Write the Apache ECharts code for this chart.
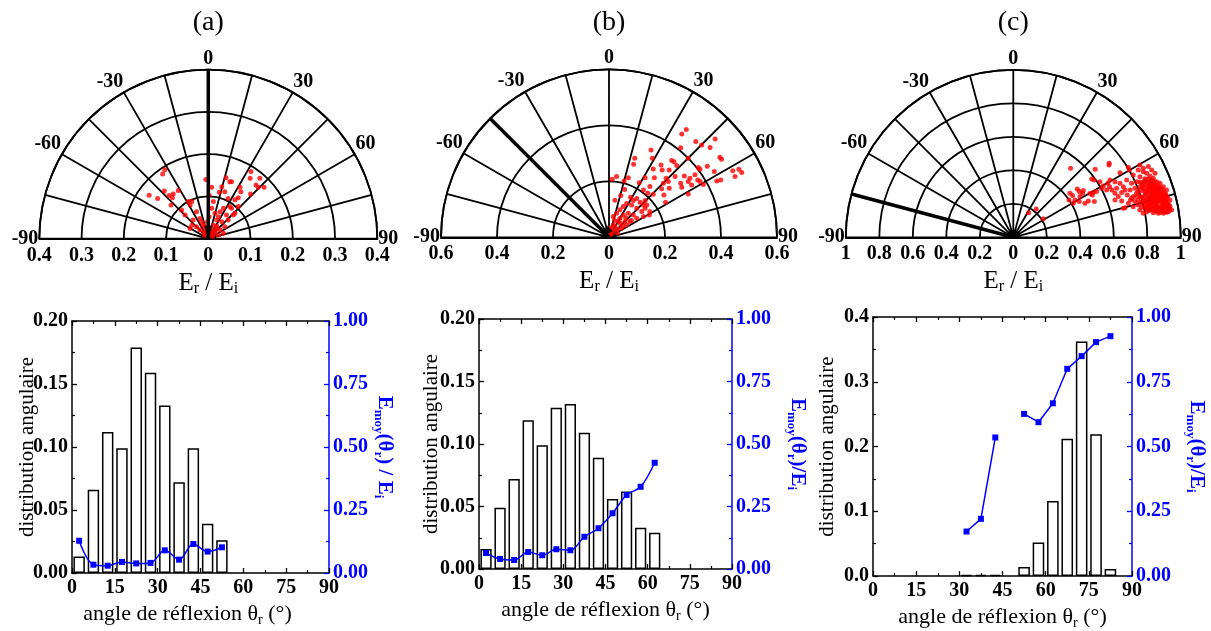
<!DOCTYPE html>
<html><head><meta charset="utf-8">
<script src="https://cdn.jsdelivr.net/npm/echarts@6/dist/echarts.min.js"></script>
<style>html,body{margin:0;padding:0;background:#fff}#c{width:1211px;height:631px}</style>
</head><body><div id="c"></div>
<script>
// ---------------- DATA ----------------
const panelTitles = ['(a)', '(b)', '(c)'];
const binCenters = [2.5,7.5,12.5,17.5,22.5,27.5,32.5,37.5,42.5,47.5,52.5,57.5,62.5,67.5,72.5,77.5,82.5,87.5];
const distA = [0.013,0.066,0.112,0.099,0.179,0.159,0.133,0.072,0.099,0.039,0.026,null,null,null,null,null,null,null];
const energyA = [0.128,0.033,0.029,0.044,0.038,0.040,0.090,0.053,0.115,0.085,0.102,null,null,null,null,null,null,null];
const distB = [0.016,0.049,0.072,0.119,0.099,0.129,0.132,0.109,0.089,0.056,0.062,0.033,0.029,null,null,null,null,null];
const energyB = [0.064,0.040,0.036,0.068,0.055,0.079,0.075,0.129,0.163,0.223,0.296,0.329,0.425,null,null,null,null,null];
const distC = [null,null,null,null,null,null,0.002,0.002,0.002,null,0.014,0.052,0.116,0.212,0.362,0.219,0.011,null];
const energyC = [null,null,null,null,null,null,0.172,0.221,0.535,null,0.626,0.594,0.667,0.800,0.849,0.903,0.926,null];

// polar maxima / incidence angle (deg)
const polarMax = [0.4, 0.6, 1.0];
const polarStep = [0.1, 0.2, 0.2];
const incidence = [0, -45, -75];
const angleTicks = [-90,-60,-30,0,30,60,90];

// reflected points: [horizontal, vertical] components of Er/Ei
const ptsA = [
[-0.103,0.163],[-0.108,0.153],[-0.140,0.103],[-0.120,0.095],[-0.104,0.113],[-0.093,0.102],[-0.085,0.097],[-0.083,0.106],[-0.071,0.114],[-0.088,0.080],
[-0.063,0.068],[-0.047,0.088],[-0.039,0.088],[-0.043,0.080],[-0.055,0.056],[-0.028,0.064],[-0.036,0.044],[-0.020,0.048],[-0.039,0.032],[-0.043,0.024],
[-0.028,0.028],[-0.016,0.040],[-0.012,0.032],[-0.020,0.021],[-0.008,0.028],[-0.012,0.017],
[-0.006,0.140],[0.008,0.122],[0.002,0.103],[0.012,0.088],[0.008,0.072],[0.002,0.052],[-0.002,0.040],[0.020,0.044],[0.016,0.060],[0.012,0.032],
[0.024,0.052],[0.028,0.064],[0.032,0.040],[0.026,0.110],[0.032,0.123],[0.042,0.144],[0.051,0.135],[0.055,0.135],[0.039,0.111],[0.047,0.095],
[0.051,0.076],[0.036,0.072],[0.043,0.056],[0.047,0.044],[0.059,0.056],[0.063,0.060],[0.039,0.028],[0.028,0.021],[0.020,0.024],[0.016,0.017],
[0.008,0.017],[0.024,0.009],[0.036,0.013],
[0.101,0.159],[0.099,0.143],[0.122,0.143],[0.113,0.127],[0.118,0.122],[0.132,0.122],[0.075,0.122],[0.077,0.111],[0.071,0.097],[0.100,0.106],
[0.063,0.092],[0.071,0.076],[0.055,0.072],
[0.005,0.010],[0.010,0.005],[-0.005,0.012],[0.015,0.020],[-0.010,0.008],[0.020,0.030],[0.005,0.025],[0.012,0.010],[-0.004,0.020]
];
const ptsB = [
[0.276,0.385],[0.260,0.369],[0.379,0.351],[0.310,0.342],[0.331,0.330],[0.361,0.321],[0.256,0.320],[0.150,0.312],[0.396,0.286],[0.402,0.279],
[0.224,0.274],[0.232,0.270],[0.155,0.282],[0.092,0.282],[0.088,0.261],[0.283,0.282],[0.186,0.258],[0.242,0.256],[0.319,0.249],[0.325,0.243],
[0.351,0.254],[0.442,0.238],[0.464,0.243],[0.474,0.231],[0.450,0.217],[0.376,0.235],[0.269,0.219],[0.289,0.211],[0.307,0.223],[0.317,0.205],
[0.325,0.199],[0.337,0.189],[0.385,0.201],[0.399,0.205],[0.256,0.193],[0.260,0.179],[0.283,0.199],[0.295,0.187],[0.283,0.155],[0.158,0.244],
[0.190,0.240],[0.215,0.240],[0.236,0.217],[0.204,0.211],[0.212,0.199],[0.194,0.193],[0.188,0.173],[0.215,0.175],[0.196,0.151],[0.202,0.125],
[0.129,0.213],[0.162,0.213],[0.108,0.195],[0.146,0.181],[0.138,0.157],[0.123,0.169],[0.158,0.154],[0.069,0.213],[0.027,0.217],[0.011,0.207],
[0.054,0.201],[0.056,0.171],[0.042,0.149],[0.021,0.132],[0.077,0.143],[0.087,0.131],[0.099,0.139],[0.111,0.125],[0.123,0.115],[0.129,0.104],
[0.146,0.092],[0.144,0.080],[0.135,0.115],[0.117,0.092],[0.099,0.104],[0.081,0.115],[0.063,0.121],[0.051,0.110],[0.039,0.098],[0.027,0.086],
[0.015,0.074],[0.051,0.080],[0.069,0.086],[0.087,0.080],[0.033,0.056],[0.015,0.044],[0.004,0.032],[0.021,0.026],[0.010,0.014],[0.039,0.068],
[0.057,0.056],[0.099,0.068],[0.123,0.074],[0.075,0.056],[0.063,0.044],[0.045,0.032],[0.129,0.131],
[0.010,0.020],[0.020,0.040],[0.030,0.030],[0.005,0.010],[0.040,0.050],[0.020,0.060],[0.050,0.040],[0.060,0.070],[0.080,0.060],[0.030,0.015]
];
const ptsC = [
[0.092,0.147],[0.137,0.169],[0.179,0.111],
[0.342,0.412],[0.489,0.406],[0.573,0.442],[0.571,0.432],[0.687,0.418],[0.693,0.402],[0.637,0.386],[0.468,0.348],[0.482,0.342],[0.517,0.332],
[0.537,0.306],[0.527,0.293],[0.497,0.273],[0.477,0.267],[0.458,0.261],[0.472,0.253],[0.382,0.289],[0.394,0.273],[0.338,0.263],[0.354,0.249],
[0.368,0.223],[0.332,0.223],[0.358,0.203],[0.394,0.213],[0.418,0.279],[0.428,0.203],[0.484,0.213],[0.448,0.217],[0.398,0.243],[0.414,0.263],
[0.565,0.322],[0.575,0.302],[0.589,0.283],[0.607,0.263],[0.627,0.243],[0.557,0.283],[0.577,0.342],[0.607,0.332],[0.637,0.322],[0.657,0.302],
[0.617,0.293],[0.647,0.267],[0.667,0.283],[0.680,0.253],[0.607,0.223],[0.647,0.217],[0.700,0.223],[0.716,0.243],[0.736,0.263],[0.667,0.177],[0.657,0.173],
[0.716,0.372],[0.756,0.362],[0.776,0.392],[0.796,0.382],[0.816,0.366],[0.836,0.352],[0.856,0.332],[0.736,0.332],[0.766,0.322],[0.786,0.338],
[0.806,0.322],[0.826,0.312],[0.846,0.302],[0.866,0.293],[0.886,0.273],[0.905,0.253],[0.915,0.233],[0.925,0.203],[0.935,0.173],[0.905,0.153],
[0.876,0.163],[0.846,0.159],[0.816,0.167],[0.786,0.173],[0.766,0.183],[0.746,0.193],[0.726,0.213],[0.706,0.233],[0.697,0.283],[0.726,0.293],
[0.746,0.273],[0.756,0.243],[0.776,0.223],[0.796,0.203],[0.826,0.193],[0.856,0.193],[0.886,0.203],[0.896,0.223],[0.876,0.243],[0.846,0.253],
[0.816,0.263],[0.796,0.283],[0.776,0.293],[0.756,0.302],[0.816,0.293],[0.836,0.283],[0.856,0.273],[0.866,0.223],[0.836,0.223],[0.806,0.233],
[0.786,0.253],[0.736,0.243],[0.886,0.183],[0.915,0.183],[0.945,0.163],[0.925,0.153],[0.896,0.143],[0.866,0.143],[0.836,0.147],[0.796,0.153],
[0.776,0.143],[0.756,0.163],[0.716,0.183],[0.687,0.203],[0.706,0.322],[0.677,0.342],[0.746,0.402],[0.776,0.412],[0.806,0.422],[0.756,0.432],
[0.826,0.402],[0.846,0.382],[0.876,0.322],[0.896,0.302],[0.915,0.283],[0.935,0.223],
[0.826,0.340],[0.846,0.330],[0.866,0.310],[0.876,0.290],[0.896,0.260],[0.906,0.240],[0.916,0.210],[0.926,0.190],[0.906,0.170],[0.886,0.160],
[0.866,0.170],[0.846,0.180],[0.826,0.180],[0.806,0.190],[0.786,0.200],[0.766,0.210],[0.746,0.220],[0.766,0.240],[0.786,0.270],[0.806,0.300],
[0.826,0.270],[0.846,0.240],[0.866,0.250],[0.886,0.240],[0.876,0.220],[0.856,0.210],[0.836,0.200],[0.816,0.210],[0.796,0.230],[0.816,0.240],
[0.836,0.260],[0.856,0.290],[0.836,0.310],[0.816,0.320],[0.796,0.310],[0.776,0.310],[0.786,0.350],[0.806,0.350],[0.756,0.330],[0.766,0.280],
[0.820,0.250],[0.830,0.230],[0.840,0.215],[0.850,0.200],[0.860,0.185],[0.870,0.175],[0.880,0.170],[0.890,0.180],[0.900,0.195],[0.910,0.200],
[0.905,0.215],[0.895,0.235],[0.885,0.250],[0.875,0.265],[0.865,0.280],[0.855,0.255],[0.845,0.265],[0.835,0.245],[0.825,0.225],[0.815,0.195],
[0.805,0.175],[0.795,0.185],[0.785,0.215],[0.775,0.235],[0.795,0.260],[0.805,0.280],[0.825,0.290],[0.845,0.290],[0.865,0.260],[0.875,0.235],
[0.885,0.210],[0.895,0.190],[0.915,0.165],[0.925,0.175],[0.935,0.185],[0.930,0.160],[0.915,0.150],[0.900,0.155],[0.880,0.150],[0.860,0.155],
[0.850,0.170],[0.830,0.165],[0.810,0.160],[0.800,0.170],[0.820,0.205],[0.840,0.190],[0.860,0.225],[0.880,0.225],[0.900,0.240],[0.910,0.225],
[0.920,0.240],[0.910,0.260],[0.895,0.280],[0.880,0.295],[0.860,0.305],[0.840,0.320],[0.820,0.335],[0.800,0.330],[0.780,0.330],[0.770,0.300]
];

// ---------------- LAYOUT ----------------
const FONT = 'Liberation Serif';
const polarCenters = [[208.3,238.7],[609,237.3],[1013.3,237.3]];
const polarRadius = [169,168,167.5];
const bottomGrids = [
  {left:72, top:321, width:257, height:252},
  {left:479, top:319, width:253, height:250},
  {left:873, top:317, width:261, height:260}
];
const blueGap = [42, 53, 52];
const leftGap = [34, 37, 35];
const xNamePad = [[0,26,0,0],[0,0,0,0],[0,0,0,0]];
const leftMax = [0.2, 0.2, 0.4];
const leftInterval = [0.05, 0.05, 0.1];
const leftDigits = [2, 2, 1];
const distAll = [distA, distB, distC];
const energyAll = [energyA, energyB, energyC];
const ptsAll = [ptsA, ptsB, ptsC];

const blackName = {
  m:{fontFamily:FONT,fontSize:25,color:'#000',verticalAlign:'top',lineHeight:26},
  s:{fontFamily:FONT,fontSize:16,color:'#000',verticalAlign:'bottom',lineHeight:16,padding:[14,0,0,0]}
};
const xName = {
  m:{fontFamily:FONT,fontSize:22,color:'#000',verticalAlign:'top',lineHeight:24},
  s:{fontFamily:FONT,fontSize:14,color:'#000',verticalAlign:'bottom',lineHeight:14,padding:[14,0,0,0]}
};
const blueName = {
  m:{fontFamily:FONT,fontSize:21,fontWeight:'bold',color:'#0000ff',verticalAlign:'top',lineHeight:23},
  s:{fontFamily:FONT,fontSize:13,fontWeight:'bold',color:'#0000ff',verticalAlign:'bottom',lineHeight:13,padding:[13,0,0,0]}
};
const blueNames = [
  '{m|E}{s|moy}{m|(θ}{s|r}{m|) / E}{s|i}',
  '{m|E}{s|moy}{m|(θ}{s|r}{m|)/E}{s|i}',
  '{m|E}{s|moy}{m|(θ}{s|r}{m|)/E}{s|i}'
];

const grid = [], xAxis = [], yAxis = [], series = [], polar = [], angleAxis = [], radiusAxis = [], graphic = [];
const tickLab = {fontFamily:FONT,fontSize:20,fontWeight:'bold',color:'#000'};

for (let i=0;i<3;i++){
  grid.push(bottomGrids[i]);
  const xb = {gridIndex:i,type:'value',min:0,max:90,interval:15,position:'bottom',
    axisLine:{show:true,onZero:false,lineStyle:{color:'#000',width:1.5}},
    axisTick:{show:true,inside:true,length:5,lineStyle:{color:'#000',width:1.3}},
    minorTick:{show:true,splitNumber:2,length:3,lineStyle:{color:'#000',width:1.2}},
    splitLine:{show:false},
    axisLabel:Object.assign({margin:5},tickLab),
    name:'{m|angle de réflexion θ}{s|r}{m| (°)}',nameLocation:'middle',nameGap:29,
    nameTextStyle:{rich:xName,padding:xNamePad[i]}};
  const xt = {gridIndex:i,type:'value',min:0,max:90,interval:15,position:'top',
    axisLine:{show:true,onZero:false,lineStyle:{color:'#000',width:1.5}},
    axisTick:{show:true,inside:true,length:5,lineStyle:{color:'#000',width:1.3}},
    minorTick:{show:true,splitNumber:2,length:3,lineStyle:{color:'#000',width:1.2}},
    splitLine:{show:false},axisLabel:{show:false}};
  xAxis.push(xb, xt);
  const d = leftDigits[i];
  const yl = {gridIndex:i,type:'value',min:0,max:leftMax[i],interval:leftInterval[i],position:'left',
    axisLine:{show:true,onZero:false,lineStyle:{color:'#000',width:1.5}},
    axisTick:{show:true,inside:true,length:5,lineStyle:{color:'#000',width:1.3}},
    minorTick:{show:true,splitNumber:2,length:3,lineStyle:{color:'#000',width:1.2}},
    splitLine:{show:false},
    axisLabel:Object.assign({margin:4,formatter:v=>v.toFixed(d)},tickLab),
    name:'distribution angulaire',nameLocation:'middle',nameGap:leftGap[i],nameMoveOverlap:false,
    nameTextStyle:{fontFamily:FONT,fontSize:21,color:'#000'}};
  const yr = {gridIndex:i,type:'value',min:0,max:1,interval:0.25,position:'right',
    axisLine:{show:true,onZero:false,lineStyle:{color:'#0000ff',width:1.5}},
    axisTick:{show:true,inside:true,length:5,lineStyle:{color:'#0000ff',width:1.3}},
    minorTick:{show:true,splitNumber:2,length:3,lineStyle:{color:'#0000ff',width:1.2}},
    splitLine:{show:false},
    axisLabel:Object.assign({},tickLab,{margin:4,color:'#0000ff',formatter:v=>v.toFixed(2)}),
    name:blueNames[i],nameLocation:'middle',nameGap:blueGap[i],nameRotate:-90,
    nameTextStyle:{rich:blueName}};
  yAxis.push(yl, yr);

  series.push({type:'bar',xAxisIndex:2*i,yAxisIndex:2*i,barWidth:bottomGrids[i].width/90*4,
    data:binCenters.map((x,k)=>[x, distAll[i][k]==null?'-':distAll[i][k]]),
    itemStyle:{color:'#fff',borderColor:'#000',borderWidth:1.5},z:2,silent:true});
  series.push({type:'line',xAxisIndex:2*i,yAxisIndex:2*i+1,
    data:binCenters.map((x,k)=>[x, energyAll[i][k]==null?'-':energyAll[i][k]]),
    smooth:i<2?0.35:false,connectNulls:false,symbol:'rect',symbolSize:6,
    itemStyle:{color:'#0000ff'},lineStyle:{color:'#0000ff',width:1.5},z:5,silent:true});
}

for (let i=0;i<3;i++){
  const [cx,cy] = polarCenters[i], R = polarRadius[i], M = polarMax[i];
  polar.push({center:[cx,cy],radius:R});
  angleAxis.push({polarIndex:i,type:'value',min:-90,max:90,interval:15,startAngle:180,endAngle:0,clockwise:true,
    axisLine:{show:true,lineStyle:{color:'#000',width:1.8}},
    axisTick:{show:false},
    splitLine:{show:true,lineStyle:{color:'#000',width:1.8}},
    axisLabel:{show:true,margin:1,fontFamily:FONT,fontSize:20,fontWeight:'bold',color:'#000',
      formatter:v=>angleTicks.indexOf(v)>=0?String(v):''}});
  radiusAxis.push({polarIndex:i,type:'value',min:0,max:M,interval:polarStep[i],
    axisLine:{show:false},axisTick:{show:false},axisLabel:{show:false},
    splitLine:{show:true,lineStyle:{color:'#000',width:1.8}}});
  // strip axis below diameter
  const gi = 3+i;
  grid.push({left:cx-R,width:2*R,top:cy-10,height:10});
  xAxis.push({gridIndex:gi,type:'value',min:-M,max:M,interval:polarStep[i],position:'bottom',
    axisLine:{show:true,onZero:false,lineStyle:{color:'#000',width:2}},
    axisTick:{show:false},splitLine:{show:false},
    axisLabel:{margin:7,fontFamily:FONT,fontSize:20,fontWeight:'bold',color:'#000',
      formatter:v=>String(Math.abs(Math.round(v*10)/10))},
    name:'{m|E}{s|r}{m| / E}{s|i}',nameLocation:'middle',nameGap:24,nameTextStyle:{rich:blackName}});
  yAxis.push({gridIndex:gi,type:'value',min:0,max:1,show:false});

  series.push({type:'scatter',coordinateSystem:'polar',polarIndex:i,symbol:'circle',symbolSize:5,
    itemStyle:{color:'#ff0000'},silent:true,z:4,
    data:ptsAll[i].map(([h,v])=>[Math.hypot(h,v), Math.atan2(h,v)*180/Math.PI])});
  series.push({type:'line',coordinateSystem:'polar',polarIndex:i,symbol:'none',silent:true,z:6,
    lineStyle:{color:'#000',width:3.5},data:[[M,incidence[i]],[0,incidence[i]]]});
  series.push({type:'scatter',coordinateSystem:'polar',polarIndex:i,symbol:'triangle',symbolSize:[8,14],
    symbolRotate:180+incidence[i],silent:true,z:7,itemStyle:{color:'#000'},
    data:[[M*0.035,incidence[i]]]});
  graphic.push({type:'text',x:cx,y:9,style:{text:panelTitles[i],fontFamily:FONT,fontSize:28,fill:'#000',align:'center',verticalAlign:'top'}});
}

const chart = echarts.init(document.getElementById('c'),null,{renderer:'canvas'});
chart.setOption({animation:false,backgroundColor:'#fff',grid,xAxis,yAxis,polar,angleAxis,radiusAxis,series,graphic});
</script></body></html>
